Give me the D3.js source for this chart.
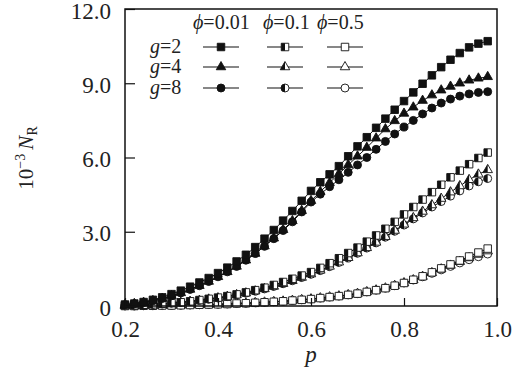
<!DOCTYPE html>
<html>
<head>
<meta charset="utf-8">
<script src="https://cdn.jsdelivr.net/npm/d3@7"></script>
<style>
  body { margin: 0; background: #fff; }
  text { font-family: "Liberation Serif", "Times New Roman", serif; fill: #222; }
</style>
</head>
<body>
<div id="chart"></div>
<script>
// p values on the x axis
const pValues = [0.20, 0.22, 0.24, 0.26, 0.28, 0.30, 0.32, 0.34, 0.36, 0.38,
  0.40, 0.42, 0.44, 0.46, 0.48, 0.50, 0.52, 0.54, 0.56, 0.58,
  0.60, 0.62, 0.64, 0.66, 0.68, 0.70, 0.72, 0.74, 0.76, 0.78,
  0.80, 0.82, 0.84, 0.86, 0.88, 0.90, 0.92, 0.94, 0.96, 0.98];

// 10^-3 N_R, phi = 0.01
const phi001_g2 = [0.06, 0.10, 0.16, 0.25, 0.35, 0.48, 0.62, 0.78, 0.95, 1.13,
  1.33, 1.55, 1.80, 2.07, 2.38, 2.72, 3.07, 3.45, 3.84, 4.25,
  4.65, 5.00, 5.32, 5.65, 6.05, 6.45, 6.82, 7.20, 7.57, 7.93,
  8.28, 8.63, 8.98, 9.32, 9.65, 9.95, 10.22, 10.45, 10.60, 10.70];
const phi001_g4 = [0.05, 0.09, 0.14, 0.21, 0.30, 0.41, 0.53, 0.67, 0.82, 0.99,
  1.18, 1.38, 1.60, 1.85, 2.12, 2.42, 2.74, 3.08, 3.44, 3.85,
  4.25, 4.62, 4.98, 5.34, 5.70, 6.05, 6.40, 6.78, 7.15, 7.48,
  7.78, 8.03, 8.30, 8.52, 8.72, 8.87, 9.00, 9.12, 9.20, 9.26];
const phi001_g8 = [0.05, 0.09, 0.14, 0.21, 0.30, 0.41, 0.53, 0.67, 0.82, 0.99,
  1.18, 1.38, 1.60, 1.85, 2.12, 2.41, 2.72, 3.05, 3.40, 3.80,
  4.20, 4.52, 4.82, 5.10, 5.40, 5.70, 6.00, 6.33, 6.65, 6.95,
  7.23, 7.50, 7.76, 8.00, 8.20, 8.36, 8.48, 8.57, 8.63, 8.66];

// phi = 0.1
const phi01_g2 = [0.02, 0.03, 0.05, 0.07, 0.09, 0.12, 0.15, 0.19, 0.24, 0.29,
  0.34, 0.40, 0.47, 0.55, 0.64, 0.74, 0.85, 0.97, 1.10, 1.23,
  1.37, 1.54, 1.73, 1.93, 2.14, 2.36, 2.60, 2.85, 3.12, 3.40,
  3.70, 4.00, 4.30, 4.60, 4.90, 5.20, 5.47, 5.73, 5.98, 6.20];
const phi01_g4 = [0.02, 0.03, 0.04, 0.06, 0.08, 0.11, 0.14, 0.18, 0.22, 0.27,
  0.32, 0.38, 0.45, 0.52, 0.60, 0.69, 0.79, 0.90, 1.02, 1.15,
  1.29, 1.44, 1.60, 1.77, 1.95, 2.14, 2.35, 2.57, 2.80, 3.05,
  3.30, 3.56, 3.82, 4.08, 4.34, 4.60, 4.85, 5.10, 5.32, 5.50];
const phi01_g8 = [0.02, 0.03, 0.04, 0.06, 0.08, 0.11, 0.14, 0.18, 0.22, 0.27,
  0.32, 0.38, 0.45, 0.52, 0.60, 0.69, 0.79, 0.90, 1.02, 1.15,
  1.28, 1.43, 1.59, 1.76, 1.94, 2.13, 2.34, 2.55, 2.78, 3.02,
  3.27, 3.52, 3.76, 4.00, 4.22, 4.44, 4.65, 4.85, 5.02, 5.15];

// phi = 0.5
const phi05_g2 = [0.00, 0.00, 0.01, 0.01, 0.02, 0.02, 0.03, 0.04, 0.05, 0.06,
  0.07, 0.08, 0.10, 0.11, 0.13, 0.15, 0.17, 0.19, 0.22, 0.25,
  0.28, 0.32, 0.36, 0.40, 0.45, 0.50, 0.57, 0.64, 0.72, 0.82,
  0.93, 1.06, 1.20, 1.36, 1.52, 1.68, 1.84, 2.00, 2.16, 2.32];
const phi05_g4 = [0.00, 0.00, 0.01, 0.01, 0.02, 0.02, 0.03, 0.04, 0.05, 0.06,
  0.07, 0.08, 0.10, 0.11, 0.13, 0.15, 0.17, 0.19, 0.22, 0.25,
  0.28, 0.32, 0.36, 0.40, 0.45, 0.50, 0.57, 0.64, 0.72, 0.82,
  0.93, 1.05, 1.19, 1.34, 1.49, 1.64, 1.79, 1.94, 2.08, 2.22];
const phi05_g8 = [0.00, 0.00, 0.01, 0.01, 0.02, 0.02, 0.03, 0.04, 0.05, 0.06,
  0.07, 0.08, 0.10, 0.11, 0.13, 0.15, 0.17, 0.19, 0.22, 0.25,
  0.28, 0.32, 0.36, 0.40, 0.45, 0.50, 0.57, 0.64, 0.72, 0.82,
  0.93, 1.05, 1.18, 1.32, 1.46, 1.60, 1.74, 1.87, 1.99, 2.10];

const xTicks = [0.2, 0.4, 0.6, 0.8, 1.0];
const xTickLabels = ["0.2", "0.4", "0.6", "0.8", "1.0"];
const yTicks = [0, 3, 6, 9, 12];
const yTickLabels = ["0", "3.0", "6.0", "9.0", "12.0"];

const phiLabels = ["0.01", "0.1", "0.5"];
const gLabels = ["2", "4", "8"];
const fills = ["full", "half", "open"];      // by phi
const shapes = ["square", "triangle", "circle"]; // by g

const series = [
  { phi: 2, g: 2, values: phi05_g8 }, { phi: 2, g: 1, values: phi05_g4 }, { phi: 2, g: 0, values: phi05_g2 },
  { phi: 1, g: 2, values: phi01_g8 }, { phi: 1, g: 1, values: phi01_g4 }, { phi: 1, g: 0, values: phi01_g2 },
  { phi: 0, g: 2, values: phi001_g8 }, { phi: 0, g: 1, values: phi001_g4 }, { phi: 0, g: 0, values: phi001_g2 }
];

const width = 532, height = 376,
  margin = { top: 9, right: 35, bottom: 70, left: 125 };

const svg = d3.select("#chart").append("svg")
  .attr("width", width).attr("height", height);

const x = d3.scaleLinear().domain([0.2, 1.0]).range([margin.left, width - margin.right]);
const y = d3.scaleLinear().domain([0, 12]).range([height - margin.bottom, margin.top]);

// markers
function marker(g, shape, fill, cx, cy) {
  const s = 7.5, r = 4, t = 9.5, h = t * Math.sqrt(3) / 2;
  let full, half;
  if (shape === "square") {
    full = `M${cx - s / 2},${cy - s / 2}h${s}v${s}h${-s}Z`;
    half = `M${cx - s / 2},${cy - s / 2}h${s / 2}v${s}h${-s / 2}Z`;
  } else if (shape === "triangle") {
    full = `M${cx},${cy - h * 2 / 3}L${cx + t / 2},${cy + h / 3}L${cx - t / 2},${cy + h / 3}Z`;
    half = `M${cx},${cy - h * 2 / 3}L${cx},${cy + h / 3}L${cx - t / 2},${cy + h / 3}Z`;
  } else {
    full = `M${cx},${cy - r}A${r},${r} 0 1 1 ${cx},${cy + r}A${r},${r} 0 1 1 ${cx},${cy - r}Z`;
    half = `M${cx},${cy - r}A${r},${r} 0 0 0 ${cx},${cy + r}Z`;
  }
  g.append("path").attr("d", full)
    .attr("fill", fill === "full" ? "#111" : "#fff")
    .attr("stroke", "#111").attr("stroke-width", 0.9);
  if (fill === "half") {
    g.append("path").attr("d", half).attr("fill", "#111");
  }
}

const line = d3.line().x((d, i) => x(pValues[i])).y(d => y(d));

for (const s of series) {
  const g = svg.append("g");
  g.append("path").datum(s.values)
    .attr("fill", "none").attr("stroke", "#111").attr("stroke-width", 1)
    .attr("d", line);
  s.values.forEach((v, i) => marker(g, shapes[s.g], fills[s.phi], x(pValues[i]), y(v)));
}

// frame
svg.append("rect")
  .attr("x", margin.left).attr("y", margin.top)
  .attr("width", width - margin.left - margin.right)
  .attr("height", height - margin.top - margin.bottom)
  .attr("fill", "none").attr("stroke", "#111").attr("stroke-width", 1.5);

// axes with inward ticks
svg.append("g")
  .attr("transform", `translate(0,${height - margin.bottom})`)
  .call(d3.axisBottom(x).tickValues(xTicks).tickSizeInner(-8).tickSizeOuter(0)
    .tickFormat((d, i) => xTickLabels[i]).tickPadding(15))
  .call(g => g.select(".domain").remove())
  .call(g => g.selectAll(".tick line").attr("stroke", "#111").attr("stroke-width", 1.2))
  .call(g => g.selectAll(".tick text").attr("font-size", 23).attr("font-family", null).attr("fill", "#222"));

svg.append("g")
  .attr("transform", `translate(${margin.left},0)`)
  .call(d3.axisLeft(y).tickValues(yTicks).tickSizeInner(-10).tickSizeOuter(0)
    .tickFormat((d, i) => yTickLabels[i]).tickPadding(14))
  .call(g => g.select(".domain").remove())
  .call(g => g.selectAll(".tick line").attr("stroke", "#111").attr("stroke-width", 1.2))
  .call(g => g.selectAll(".tick text").attr("font-size", 23).attr("dy", "0.4em")
    .attr("font-family", null).attr("fill", "#222"));

// axis titles
svg.append("text")
  .attr("x", x(0.6)).attr("y", 362)
  .attr("text-anchor", "middle").attr("font-size", 23).attr("font-style", "italic")
  .text("p");

const yl = svg.append("text")
  .attr("transform", "translate(33,158) rotate(-90)")
  .attr("text-anchor", "middle").attr("font-size", 21);
yl.append("tspan").text("10");
yl.append("tspan").attr("font-size", 14).attr("dy", -8).text("\u22123");
yl.append("tspan").attr("dy", 8).text("\u2009");
yl.append("tspan").attr("font-style", "italic").text("N");
yl.append("tspan").attr("font-size", 14).attr("dy", 4).text("R");

// legend
const colX = [221, 285, 345];
const colTextX = [193, 263, 317];
const rowY = [47, 67, 88];

phiLabels.forEach((l, j) => {
  const t = svg.append("text").attr("x", colTextX[j]).attr("y", 29).attr("font-size", 20);
  t.append("tspan").attr("font-style", "italic").text("\u03d5");
  t.append("tspan").text("=" + l);
});

gLabels.forEach((l, i) => {
  const t = svg.append("text").attr("x", 150).attr("y", rowY[i] + 6).attr("font-size", 20);
  t.append("tspan").attr("font-style", "italic").text("g");
  t.append("tspan").text("=" + l);
  fills.forEach((f, j) => {
    const g = svg.append("g");
    g.append("line")
      .attr("x1", colX[j] - 18).attr("x2", colX[j] + 18)
      .attr("y1", rowY[i]).attr("y2", rowY[i])
      .attr("stroke", "#111").attr("stroke-width", 1.2);
    marker(g, shapes[i], f, colX[j], rowY[i]);
  });
});
</script>
</body>
</html>
